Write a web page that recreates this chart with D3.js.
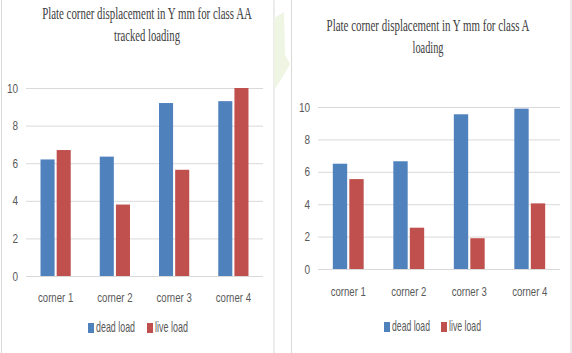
<!DOCTYPE html>
<html>

<head>
    <meta charset="utf-8">
    <style>
        body {
            margin: 0;
            background: white;
        }

        svg {
            display: block;
        }

        .tick text, .cat, .leg {
            font-family: 'Liberation Sans Narrow', 'Arial Narrow', 'Liberation Sans', sans-serif;
            fill: #595959;
        }

        .title {
            font-family: 'Liberation Serif', 'Times New Roman', serif;
            fill: #404040;
        }
    </style>
</head>

<body>
    <svg width="572" height="353"></svg>

<script src="https://d3js.org/d3.v7.min.js"></script>
<script>
    // values
    let categories = ["corner 1", "corner 2", "corner 3", "corner 4"];
    let seriesNames = ["dead load", "live load"];
    let aaDead = [6.2, 6.35, 9.2, 9.3];
    let aaLive = [6.7, 3.8, 5.65, 10.0];
    let aDead = [6.5, 6.65, 9.55, 9.9];
    let aLive = [5.55, 2.55, 1.9, 4.05];
    let yTicks = [0, 2, 4, 6, 8, 10];
    let colors = ["#4f81bd", "#c0504d"];

    let svg = d3.select("svg");

    // panel frames
    svg.append("rect").attr("x", 1.5).attr("y", -2).attr("width", 272.5).attr("height", 360)
        .style("fill", "white").style("stroke", "#d9d9d9");
    svg.append("rect").attr("x", 291.5).attr("y", -2).attr("width", 279.5).attr("height", 360)
        .style("fill", "white").style("stroke", "#d9d9d9");

    // faint green watermark between the panels
    svg.append("path")
        .attr("d", "M274,18 L284,12 L285,55 L290,64 L282,78 L274,90 Z")
        .style("fill", "#eef5e3");

    // squeeze a text to a given width, centred on cx
    function fitText(sel, cx, cy, w) {
        let natural = sel.node().getComputedTextLength();
        sel.attr("x", 0).attr("y", 0)
            .attr("transform", "translate(" + cx + "," + cy + ") scale(" + (w / natural) + ",1)");
    }

    function drawChart(opts) {
        let g = svg.append("g");

        let x0 = d3.scaleBand()
            .domain(categories)
            .range([opts.left, opts.right])
            .paddingInner(0.49)
            .paddingOuter(0.245);

        let x1 = d3.scaleBand()
            .domain(seriesNames)
            .range([0, x0.bandwidth()])
            .paddingInner(0.13);

        let y = d3.scaleLinear()
            .domain([0, 10])
            .range([opts.bottom, opts.top]);

        // gridlines + labels
        let yAxis = d3.axisLeft(y)
            .tickValues(yTicks)
            .tickSize(-(opts.right - opts.left))
            .tickPadding(8)
            .tickFormat(d3.format("d"));

        let ax = g.append("g")
            .attr("transform", "translate(" + opts.left + ",0)")
            .call(yAxis);
        ax.select(".domain").remove();
        ax.selectAll(".tick line").style("stroke", "#d9d9d9");
        ax.selectAll(".tick text")
            .style("font-size", "12.5px")
            .attr("transform", function () {
                // squeeze horizontally like the source
                let xx = +d3.select(this).attr("x");
                return "translate(" + (xx * 0.2) + ",0) scale(0.8,1)";
            });

        let table = categories.map((c, i) => ({ cat: c, vals: [opts.dead[i], opts.live[i]] }));

        g.selectAll(".grp")
            .data(table)
            .join("g")
            .attr("transform", d => "translate(" + x0(d.cat) + ",0)")
            .selectAll("rect")
            .data(d => d.vals.map((v, k) => ({ name: seriesNames[k], v: v, k: k })))
            .join("rect")
            .attr("x", d => x1(d.name))
            .attr("width", x1.bandwidth())
            .attr("y", d => y(d.v))
            .attr("height", d => y(0) - y(d.v))
            .style("fill", d => colors[d.k]);

        // category labels
        g.selectAll(".cat")
            .data(categories)
            .join("text")
            .attr("class", "cat")
            .attr("text-anchor", "middle")
            .style("font-size", "12px")
            .attr("transform", d => "translate(" + (x0(d) + x0.bandwidth() / 2) + "," + opts.catY + ") scale(0.8,1)")
            .text(d => d);

        // titles
        opts.title.forEach((t, i) => {
            let tt = g.append("text")
                .attr("class", "title")
                .attr("text-anchor", "middle")
                .style("font-size", "16px")
                .text(t);
            fitText(tt, opts.titleX, opts.titleY[i], opts.titleW[i]);
        });

        // legend
        let lx = opts.legX;
        seriesNames.forEach((s, k) => {
            g.append("rect")
                .attr("x", lx)
                .attr("y", opts.legY - 9)
                .attr("width", 6)
                .attr("height", 10)
                .style("fill", colors[k]);
            let lt = g.append("text")
                .attr("class", "leg")
                .attr("text-anchor", "middle")
                .style("font-size", "14px")
                .text(s);
            fitText(lt, lx + 8 + opts.legW[k] / 2, opts.legY, opts.legW[k]);
            lx += opts.legStep[k];
        });
    }

    drawChart({
        left: 26, right: 263, top: 88, bottom: 276,
        dead: aaDead, live: aaLive,
        catY: 302,
        title: ["Plate corner displacement in Y mm for class AA", "tracked loading"],
        titleX: 147, titleY: [19, 41], titleW: [210, 66],
        legX: 88, legY: 332, legW: [39, 33], legStep: [59, 0]
    });

    drawChart({
        left: 318, right: 560, top: 107, bottom: 269,
        dead: aDead, live: aLive,
        catY: 296,
        title: ["Plate corner displacement in Y mm for class A", "loading"],
        titleX: 428, titleY: [31, 53], titleW: [203, 31],
        legX: 384, legY: 331, legW: [38, 32], legStep: [57, 0]
    });
</script>
</body>

</html>
